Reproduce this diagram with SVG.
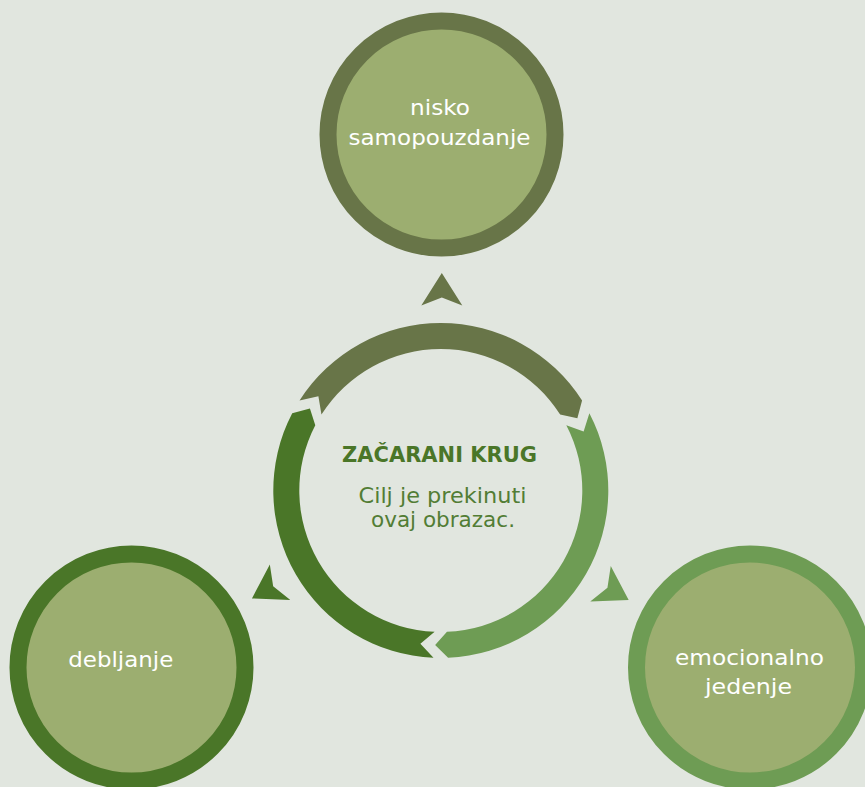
<svg xmlns="http://www.w3.org/2000/svg" width="865" height="787" viewBox="0 0 865 787">
<style>
.bg{fill:#e1e6df}
.node{fill:#9cae70;stroke-width:17}
.lbl{font-family:"DejaVu Sans","Open Sans",sans-serif;font-size:21px;fill:#ffffff;text-anchor:middle}
.title{font-family:"DejaVu Sans","Open Sans",sans-serif;font-size:21px;font-weight:bold;fill:#4a7628;text-anchor:middle}
.sub{font-family:"DejaVu Sans","Open Sans",sans-serif;font-size:21px;fill:#527d35;text-anchor:middle}
.olive{fill:#687548}
.dark{fill:#4a7628}
.light{fill:#6e9c54}
</style>
<defs>
<path id="arc" d="M -141.27 -90 A 167.5 167.5 0 0 1 141.27 -90 L 136.55 -72.29 L 119.34 -76.03 A 141.5 141.5 0 0 0 -119.34 -76.03 L -122.41 -94.26 Z"/>
<polygon id="tri" points="1,-217.5 21.5,-185 1,-193 -19.5,-185"/>
</defs>
<rect class="bg" x="0" y="0" width="865" height="787"/>

<g id="connectors">
  <g transform="translate(440.8,490.5)">
    <use href="#arc" class="olive"/>
    <use href="#arc" class="light" transform="rotate(120)"/>
    <use href="#arc" class="dark" transform="rotate(240)"/>
    <use href="#tri" class="olive"/>
    <use href="#tri" class="light" transform="rotate(120)"/>
    <use href="#tri" class="dark" transform="rotate(240)"/>
  </g>
</g>

<g id="center">
  <text class="title" x="439.5" y="461.5" textLength="195" lengthAdjust="spacingAndGlyphs">ZAČARANI KRUG</text>
  <text class="sub" x="442.5" y="503" textLength="168" lengthAdjust="spacingAndGlyphs">Cilj je prekinuti</text>
  <text class="sub" x="443" y="527" textLength="144" lengthAdjust="spacingAndGlyphs">ovaj obrazac.</text>
</g>

<g id="node-top">
  <circle class="node" cx="441.5" cy="134.5" r="113.5" stroke="#687548"/>
  <text class="lbl" x="440" y="115" textLength="60" lengthAdjust="spacingAndGlyphs">nisko</text>
  <text class="lbl" x="439.5" y="145" textLength="182" lengthAdjust="spacingAndGlyphs">samopouzdanje</text>
</g>

<g id="node-left">
  <circle class="node" cx="131.5" cy="667.5" r="113.5" stroke="#4a7628"/>
  <text class="lbl" x="120.8" y="666.5" textLength="105" lengthAdjust="spacingAndGlyphs">debljanje</text>
</g>

<g id="node-right">
  <circle class="node" cx="750" cy="667.5" r="113.5" stroke="#6e9c54"/>
  <text class="lbl" x="749.5" y="665" textLength="149" lengthAdjust="spacingAndGlyphs">emocionalno</text>
  <text class="lbl" x="748.5" y="694" textLength="87" lengthAdjust="spacingAndGlyphs">jedenje</text>
</g>
</svg>
